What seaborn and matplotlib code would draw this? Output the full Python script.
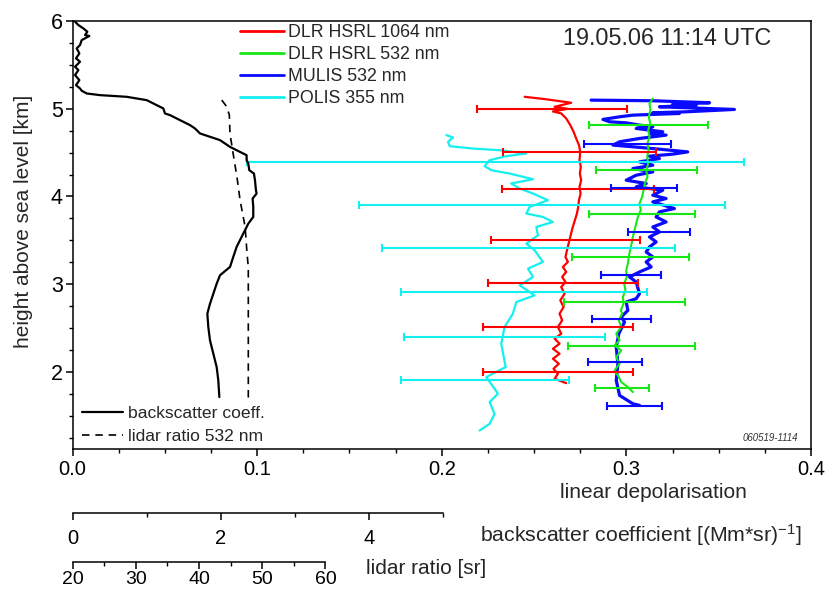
import matplotlib
matplotlib.use("Agg")
import matplotlib.pyplot as plt
import seaborn as sns
from matplotlib.ticker import MultipleLocator, FixedLocator, FormatStrFormatter

# ---------------- data ----------------
red_depol = [0.2449,0.2557,0.2701,0.2611,0.2683,0.2602,0.2647,0.2674,0.2696,0.2714,0.2728,0.2743,0.2750,0.2746,0.2753,0.2748,0.2755,0.2746,0.2752,0.2743,0.2739,0.2732,0.2721,0.2707,0.2696,0.2687,0.2678,0.2670,0.2683,0.2656,0.2674,0.2652,0.2670,0.2647,0.2665,0.2642,0.2660,0.2638,0.2652,0.2629,0.2647,0.2611,0.2638,0.2602,0.2638,0.2602,0.2634,0.2605,0.2629,0.2611,0.2674]
red_height = [5.136,5.110,5.068,5.022,4.999,4.969,4.946,4.889,4.813,4.737,4.661,4.585,4.508,4.413,4.337,4.261,4.185,4.109,4.033,3.957,3.881,3.805,3.728,3.633,3.538,3.462,3.386,3.310,3.253,3.196,3.139,3.082,3.024,2.967,2.891,2.815,2.739,2.663,2.587,2.511,2.435,2.378,2.321,2.263,2.206,2.149,2.092,2.035,1.978,1.921,1.871]

green_depol = [0.3143,0.3125,0.3130,0.3121,0.3129,0.3118,0.3125,0.3114,0.3121,0.3112,0.3118,0.3107,0.3114,0.3100,0.3093,0.3085,0.3071,0.3078,0.3062,0.3053,0.3044,0.3035,0.3028,0.3020,0.3013,0.3008,0.2999,0.3002,0.2988,0.2995,0.2981,0.2984,0.2970,0.2977,0.2959,0.2972,0.2945,0.2963,0.2936,0.2972,0.2945,0.2963,0.2936,0.2959,0.2972,0.3008,0.3035]
green_height = [5.117,5.060,4.984,4.908,4.832,4.756,4.680,4.604,4.527,4.451,4.375,4.299,4.223,4.147,4.071,3.995,3.919,3.843,3.766,3.690,3.614,3.538,3.462,3.386,3.310,3.234,3.158,3.082,3.005,2.929,2.853,2.777,2.701,2.663,2.587,2.511,2.435,2.359,2.301,2.244,2.168,2.092,2.016,1.940,1.883,1.826,1.769]

blue_depol = [0.2809,0.3143,0.3450,0.3251,0.3378,0.3179,0.3585,0.3323,0.3143,0.3287,0.3035,0.2963,0.2873,0.2909,0.2999,0.3071,0.3143,0.3053,0.3197,0.3125,0.3215,0.3071,0.2963,0.2927,0.3035,0.3143,0.3332,0.3251,0.3125,0.3179,0.3071,0.3143,0.3035,0.3143,0.3053,0.2999,0.3107,0.3053,0.3197,0.3143,0.3215,0.3143,0.3260,0.3179,0.3161,0.3215,0.3143,0.3179,0.3125,0.3161,0.3125,0.3107,0.3143,0.3107,0.3134,0.3071,0.3017,0.3053,0.3071,0.3053,0.2999,0.3008,0.2972,0.2990,0.2959,0.2945,0.2954,0.2945,0.2963,0.3035,0.3071]
blue_height = [5.098,5.091,5.068,5.053,5.041,5.022,4.992,4.965,4.954,4.946,4.927,4.908,4.878,4.851,4.839,4.813,4.794,4.775,4.737,4.718,4.699,4.661,4.623,4.585,4.566,4.546,4.508,4.482,4.459,4.432,4.394,4.356,4.318,4.280,4.242,4.185,4.147,4.109,4.071,4.014,3.976,3.938,3.862,3.824,3.766,3.709,3.652,3.595,3.538,3.481,3.424,3.367,3.310,3.253,3.196,3.139,3.082,3.024,2.891,2.834,2.796,2.701,2.625,2.568,2.435,2.282,2.092,1.902,1.731,1.636,1.617]

cyan_depol = [0.2025,0.2061,0.2034,0.2043,0.2169,0.2313,0.2458,0.2349,0.2259,0.2232,0.2268,0.2367,0.2494,0.2376,0.2422,0.2494,0.2575,0.2476,0.2458,0.2548,0.2602,0.2512,0.2521,0.2458,0.2503,0.2548,0.2467,0.2494,0.2422,0.2503,0.2404,0.2385,0.2340,0.2322,0.2346,0.2241,0.2286,0.2304,0.2259,0.2286,0.2259,0.2205]
cyan_height = [4.699,4.672,4.623,4.573,4.546,4.527,4.489,4.459,4.413,4.345,4.299,4.261,4.196,4.147,4.090,4.033,3.957,3.881,3.805,3.766,3.709,3.652,3.557,3.462,3.386,3.253,3.177,3.082,2.986,2.872,2.796,2.663,2.511,2.321,2.054,1.940,1.807,1.750,1.655,1.521,1.407,1.331]

red_err_h = [5.00, 4.51, 4.09, 3.50, 3.01, 2.51, 2.00]
red_err_c = [0.2597, 0.2746, 0.2739, 0.2670, 0.2655, 0.2629, 0.2629]
red_err_e = [0.0406, 0.0415, 0.0413, 0.0406, 0.0407, 0.0406, 0.0406]

green_err_h = [4.81, 4.30, 3.80, 3.31, 2.80, 2.30, 1.81]
green_err_c = [0.3119, 0.3107, 0.3083, 0.3021, 0.2990, 0.3026, 0.2977]
green_err_e = [0.0322, 0.0274, 0.0286, 0.0317, 0.0330, 0.0343, 0.0148]

blue_err_h = [4.60, 4.10, 3.60, 3.10, 2.60, 2.11, 1.61]
blue_err_c = [0.3005, 0.3096, 0.3178, 0.3026, 0.2975, 0.2938, 0.3045]
blue_err_e = [0.0237, 0.0178, 0.0167, 0.0162, 0.0160, 0.0147, 0.0149]

cyan_err_h = [4.39, 3.90, 3.41, 2.91, 2.40, 1.91]
cyan_err_c = [0.2291, 0.2544, 0.2470, 0.2445, 0.2340, 0.2233]
cyan_err_e = [0.1348, 0.0992, 0.0793, 0.0667, 0.0546, 0.0455]

bsc_value = [0.034,0.079,0.146,0.200,0.169,0.227,0.124,0.101,0.056,0.092,0.047,0.101,0.034,0.079,0.034,0.092,0.047,0.101,0.124,0.191,0.371,0.731,1.001,1.136,1.226,1.248,1.316,1.451,1.586,1.653,1.721,1.856,1.991,2.126,2.260,2.350,2.350,2.373,2.386,2.449,2.463,2.476,2.485,2.431,2.440,2.440,2.373,2.328,2.260,2.215,2.170,2.126,1.991,1.946,1.901,1.856,1.820,1.833,1.856,1.901,1.946,1.968,1.982]
bsc_height = [5.992,5.954,5.916,5.878,5.840,5.829,5.783,5.726,5.688,5.631,5.574,5.536,5.479,5.441,5.384,5.326,5.269,5.231,5.205,5.174,5.155,5.136,5.098,5.041,5.003,4.946,4.927,4.870,4.813,4.775,4.718,4.680,4.642,4.565,4.508,4.470,4.413,4.375,4.299,4.261,4.185,4.071,4.033,3.976,3.881,3.766,3.690,3.614,3.500,3.424,3.310,3.196,3.101,3.005,2.891,2.777,2.663,2.511,2.358,2.206,2.054,1.902,1.712]

lidar_value = [43.6, 44.4, 44.8, 44.9, 45.4, 46.0, 46.5, 47.3, 47.6, 47.8, 47.8]
lidar_height = [5.098, 5.022, 4.927, 4.718, 4.489, 4.223, 3.957, 3.652, 3.348, 3.196, 1.673]

legend_labels = ["DLR HSRL 1064 nm", "DLR HSRL 532 nm", "MULIS 532 nm", "POLIS 355 nm"]
colors = ["#ff0000", "#16e816", "#0a0aff", "#14f0f0"]

# ---------------- style ----------------
sns.set_style("ticks")
plt.rcParams["font.family"] = ["Liberation Sans", "DejaVu Sans"]
plt.rcParams["mathtext.fontset"] = "custom"
plt.rcParams["mathtext.rm"] = "Liberation Sans"
plt.rcParams["mathtext.it"] = "Liberation Sans:italic"
plt.rcParams["axes.edgecolor"] = "black"
plt.rcParams["xtick.color"] = "black"
plt.rcParams["ytick.color"] = "black"

fig = plt.figure(figsize=(8.28, 5.94), dpi=100)
ax = fig.add_axes([0.0876, 0.2441, 0.8919, 0.7205])

profiles = [(red_depol, red_height), (green_depol, green_height),
            (blue_depol, blue_height), (cyan_depol, cyan_height)]
lws = [1.6, 1.5, 2.3, 1.6]
handles = {}
for i in [2, 0, 1, 3]:
    d, h = profiles[i]
    sns.lineplot(x=d, y=h, sort=False, estimator=None, color=colors[i],
                 lw=lws[i], ax=ax)
    handles[i] = ax.lines[-1]

errs = [(red_err_c, red_err_h, red_err_e), (green_err_c, green_err_h, green_err_e),
        (blue_err_c, blue_err_h, blue_err_e), (cyan_err_c, cyan_err_h, cyan_err_e)]
for i in [0, 2, 1, 3]:
    c, h, e = errs[i]
    ax.errorbar(c, h, xerr=e, fmt="none", ecolor=colors[i], elinewidth=1.5,
                capsize=3.2, capthick=1.5)

ax.set_xlim(0, 0.4)
ax.set_ylim(1.12, 6)
ax.xaxis.set_major_locator(MultipleLocator(0.1))
ax.xaxis.set_minor_locator(MultipleLocator(0.025))
ax.xaxis.set_major_formatter(FormatStrFormatter("%.1f"))
ax.yaxis.set_major_locator(MultipleLocator(1))
ax.yaxis.set_minor_locator(MultipleLocator(0.25))
ax.yaxis.set_major_formatter(FormatStrFormatter("%d"))
ax.tick_params(which="major", direction="out", length=5, width=1.1,
               labelsize=14.5, pad=3)
ax.tick_params(which="minor", direction="out", length=3, width=1.0)
ax.tick_params(axis="y", pad=2, labelsize=15.5)
for s in ax.spines.values():
    s.set_visible(True)
    s.set_linewidth(1.1)
    s.set_color("black")

ax.set_xlabel("linear depolarisation", fontsize=15)
ax.xaxis.set_label_coords(0.787, -0.080)
ax.set_ylabel("height above sea level [km]", fontsize=15)
ax.yaxis.set_label_coords(-0.053, 0.533)

# backscatter axis
ax2 = ax.twiny()
sns.lineplot(x=bsc_value, y=bsc_height, sort=False, estimator=None,
             color="black", lw=1.6, ax=ax2)
h_bsc = ax2.lines[-1]
ax2.set_xlim(0, 9.97)
ax2.set_ylim(1.12, 6)
ax2.xaxis.set_ticks_position("bottom")
ax2.xaxis.set_label_position("bottom")
for k in ["top", "left", "right"]:
    ax2.spines[k].set_visible(False)
ax2.spines["bottom"].set_position(("outward", 45.9))
ax2.spines["bottom"].set_bounds(0, 5)
ax2.spines["bottom"].set_linewidth(1.1)
ax2.xaxis.set_major_locator(FixedLocator([0, 2, 4]))
ax2.xaxis.set_minor_locator(FixedLocator([1, 3, 5]))
ax2.xaxis.set_major_formatter(FormatStrFormatter("%d"))
ax2.tick_params(axis="x", which="major", direction="out", length=5, width=1.1,
                labelsize=14.5, pad=6.5)
ax2.tick_params(axis="x", which="minor", direction="out", length=3, width=1.0)
ax2.set_xlabel(r"backscatter coefficient [(Mm*sr)$^{\mathregular{-1}}$]",
               fontsize=15.3, ha="left", va="center")
ax2.xaxis.set_label_coords(0.552, -0.201)

# lidar ratio axis
ax3 = ax.twiny()
sns.lineplot(x=lidar_value, y=lidar_height, sort=False, estimator=None,
             color="black", lw=1.2, ax=ax3)
h_lr = ax3.lines[-1]
h_lr.set_dashes([4.5, 3.5])
ax3.set_xlim(20, 136.8)
ax3.set_ylim(1.12, 6)
ax3.xaxis.set_ticks_position("bottom")
ax3.xaxis.set_label_position("bottom")
for k in ["top", "left", "right"]:
    ax3.spines[k].set_visible(False)
ax3.spines["bottom"].set_position(("outward", 81.1))
ax3.spines["bottom"].set_bounds(20, 60)
ax3.spines["bottom"].set_linewidth(1.1)
ax3.xaxis.set_major_locator(FixedLocator([20, 30, 40, 50, 60]))
ax3.xaxis.set_minor_locator(FixedLocator([25, 35, 45, 55]))
ax3.xaxis.set_major_formatter(FormatStrFormatter("%d"))
ax3.tick_params(axis="x", which="major", direction="out", length=5, width=1.1,
                labelsize=14, pad=1.5)
ax3.tick_params(axis="x", which="minor", direction="out", length=3, width=1.0)
ax3.set_xlabel("lidar ratio [sr]", fontsize=15, ha="left", va="center")
ax3.xaxis.set_label_coords(0.397, -0.280)

# legends
leg1 = ax3.legend([handles[i] for i in range(4)], legend_labels,
                  loc="upper left", bbox_to_anchor=(0.2268, 0.993),
                  frameon=False, fontsize=12.8, handlelength=2.45,
                  handletextpad=0.25, labelspacing=0.29, borderpad=0,
                  borderaxespad=0)
for ln in leg1.get_lines():
    ln.set_linewidth(2.0)
ax3.add_artist(leg1)
ax3.legend([h_bsc, h_lr], ["backscatter coeff.", "lidar ratio 532 nm"],
           loc="lower left", bbox_to_anchor=(0.0129, 0.012), frameon=False,
           fontsize=12.6, handlelength=2.35, handletextpad=0.3,
           labelspacing=0.42, borderpad=0, borderaxespad=0)

ax.text(0.664, 0.959, "19.05.06 11:14 UTC", transform=ax.transAxes,
        fontsize=16.8, ha="left", va="center")
ax.text(0.982, 0.026, "060519-1114", transform=ax.transAxes, fontsize=7,
        style="italic", ha="right", va="center", color="#333333")

fig.savefig("out.png", dpi=100)
